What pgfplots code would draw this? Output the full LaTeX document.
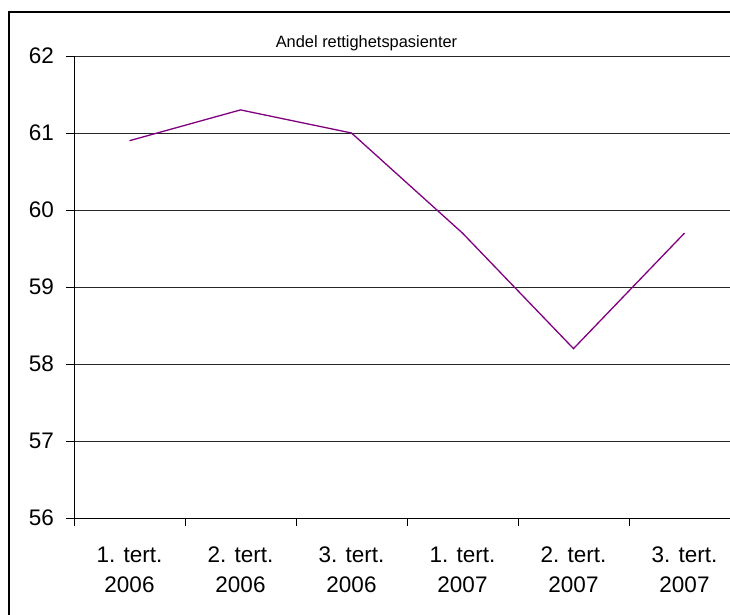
\documentclass[border=0pt]{standalone}
\usepackage{pgfplots}
\pgfplotsset{compat=1.18}
\usepackage{fontspec}
\setmainfont{Liberation Sans}
\definecolor{linepurple}{RGB}{128,0,128}
\begin{document}
\begin{tikzpicture}
\useasboundingbox (0,0) rectangle (730bp,615bp);
\clip (0,0) rectangle (730bp,615bp);
\fill[white] (0,0) rectangle (730bp,615bp);
\begin{axis}[
  scale only axis,
  anchor=south west,
  at={(74bp,97bp)},
  width=666bp, height=462bp,
  xmin=-0.5, xmax=5.5,
  ymin=56, ymax=62,
  ytick={56,57,58,59,60,61,62},
  xtick={-0.5,0.5,1.5,2.5,3.5,4.5,5.5},
  xticklabels={},
  extra x ticks={0,1,2,3,4,5},
  extra x tick labels={{1. tert.\\2006},{2. tert.\\2006},{3. tert.\\2006},{1. tert.\\2007},{2. tert.\\2007},{3. tert.\\2007}},
  extra x tick style={major tick length=0pt, grid=none},
  axis x line*=bottom,
  axis y line*=left,
  axis line style={-, black, line width=0.8bp},
  tick align=outside,
  major tick length=8bp,
  tick style={black, line width=0.8bp},
  ymajorgrids,
  grid style={black!85, line width=0.8bp},
  /pgf/number format/assume math mode=true,
  ticklabel style={font=\fontsize{22.5bp}{30bp}\selectfont, inner sep=0pt},
  yticklabel style={anchor=east, xshift=-12bp},
  xticklabel style={anchor=north, align=center, yshift=-29bp},
  clip=false,
]
\addplot[linepurple, line width=1.3bp] coordinates {
  (0,60.9) (1,61.3) (2,61.0) (3,59.7) (4,58.2) (5,59.7)
};
\end{axis}
\node[anchor=base, inner sep=0pt, font=\fontsize{16.4bp}{20bp}\selectfont] at (366.5bp,567bp) {Andel rettighetspasienter};
\draw[black, line width=2bp] (9bp,-20bp) rectangle (760bp,602.5bp);
\end{tikzpicture}
\end{document}
